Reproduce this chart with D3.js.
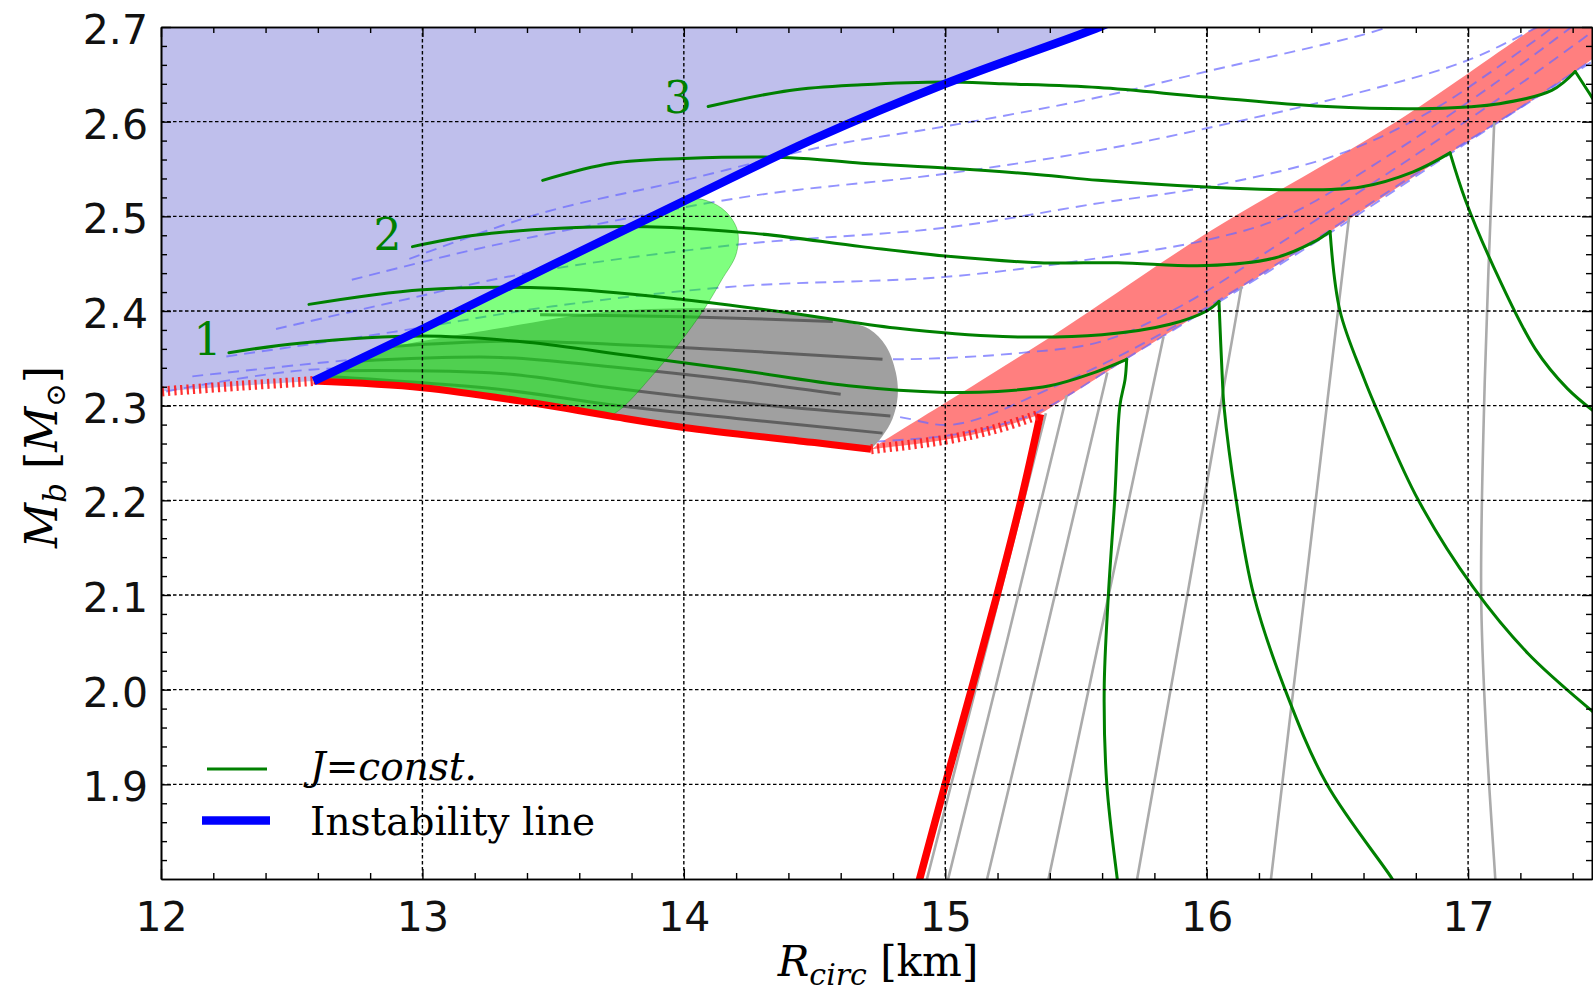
<!DOCTYPE html>
<html><head><meta charset="utf-8">
<script src="https://cdn.jsdelivr.net/npm/d3@7"></script>
<style>html,body{margin:0;padding:0;background:#fff;}svg{display:block;}</style>
</head><body>
<svg id="chart" width="1593" height="994"></svg>
<script>
// ---------------- data (R_circ [km], M_b [Msun]) ----------------
const xTicks = [12, 13, 14, 15, 16, 17];
const yTicks = [1.9, 2.0, 2.1, 2.2, 2.3, 2.4, 2.5, 2.6, 2.7];

const instabilityLine = [[12.584,2.326],[13.0,2.381],[13.5,2.449],[14.0,2.516],[14.5,2.582],[15.0,2.640],[15.59,2.70],[15.7,2.7135]];

const redSolidUpper = [[12.584,2.326],[13.0,2.319],[13.42,2.303],[13.72,2.289],[14.0,2.277],[14.5,2.261],[14.716,2.254]];
const redDottedLeft = [[11.98,2.3146],[12.3,2.321],[12.584,2.326]];
const redDottedRight = [[14.716,2.254],[15.0,2.264],[15.2,2.276],[15.364,2.291]];
const redSolidSteep = [[15.364,2.291],[15.29,2.2],[15.198,2.1],[15.10,2.0],[15.0,1.9],[14.902,1.8],[14.88,1.775]];

const pinkUpperEdge = [[14.716,2.254],[14.76,2.262],[15.1,2.32],[15.45,2.381],[16.0,2.482],[16.725,2.6],[17.257,2.7],[17.4,2.725]];
const pinkLowerEdge = [[17.75,2.725],[17.41,2.653],[16.931,2.567],[16.472,2.484],[16.047,2.41],[15.694,2.349],[15.364,2.291]];

const greenRegionEdge = [[12.584,2.326],[13.0,2.381],[13.5,2.449],[14.018,2.518],[14.093,2.516],[14.16,2.505],[14.205,2.485],[14.20,2.46],[14.145,2.433],[14.08,2.403],[13.98,2.365],[13.88,2.332],[13.77,2.299],[13.72,2.289]];
const greenRegionBottom = [[13.72,2.289],[13.42,2.303],[13.0,2.319],[12.584,2.326]];

const grayRegionEdge = [[12.584,2.326],[12.80,2.355],[13.3,2.382],[13.7,2.399],[14.07,2.403],[14.35,2.399],[14.607,2.389],[14.709,2.381],[14.773,2.363],[14.811,2.335],[14.818,2.31],[14.798,2.286],[14.76,2.268],[14.716,2.254]];

const darkLine1 = [[13.45,2.396],[14.0,2.394],[14.57,2.389]];
const darkLine2 = [[12.85,2.362],[13.3,2.368],[13.72,2.365],[14.22,2.358],[14.76,2.349]];
const darkLine3 = [[12.75,2.347],[13.3,2.351],[13.72,2.341],[14.22,2.326],[14.6,2.312]];
const darkLine4 = [[12.68,2.337],[13.3,2.334],[13.72,2.319],[14.22,2.303],[14.79,2.289]];
const darkLine5 = [[12.63,2.331],[13.3,2.317],[13.72,2.301],[14.22,2.286],[14.76,2.271]];

const dashed1 = [[12.95,2.455],[13.45,2.503],[14.0,2.538],[14.54,2.574],[15.0,2.595],[15.59,2.626],[16.0,2.653],[16.6,2.692],[16.75,2.705]];
const dashed2 = [[12.73,2.433],[13.2,2.465],[13.6,2.488],[14.27,2.522],[15.0,2.545],[15.59,2.57],[16.0,2.593],[16.6,2.632],[17.0,2.665],[17.3,2.705]];
const dashed3 = [[12.44,2.381],[12.9,2.41],[13.4,2.44],[14.2,2.47],[15.0,2.488],[15.59,2.514],[16.0,2.531],[16.5,2.565],[16.85,2.61],[17.1,2.655],[17.35,2.705]];
const dashed4 = [[12.25,2.352],[12.89,2.378],[13.5,2.405],[14.2,2.426],[15.0,2.436],[15.59,2.456],[16.0,2.475],[16.3,2.50],[16.7,2.565],[17.1,2.64],[17.42,2.705]];
const dashed5 = [[12.12,2.331],[12.6,2.345],[12.89,2.352],[13.5,2.36],[14.3,2.355],[14.8,2.349],[15.3,2.356],[15.6,2.368],[15.9,2.405],[16.3,2.475],[16.8,2.565],[17.2,2.64],[17.5,2.70]];
const dashed6 = [[12.02,2.315],[12.57,2.338],[13.2,2.335],[14.0,2.31],[14.8,2.289],[15.03,2.28],[15.4,2.318],[15.82,2.375],[16.3,2.455],[16.8,2.545],[17.2,2.615],[17.5,2.67]];
const dashed7 = [[14.73,2.262],[15.0,2.268],[15.2,2.279],[15.36,2.294],[15.7,2.351],[16.05,2.41],[16.48,2.484],[16.93,2.566],[17.41,2.652],[17.5,2.668]];

const jLine1Top = [[12.26,2.356],[12.53,2.366],[13.0,2.3735],[13.4,2.367],[13.79,2.353],[14.2,2.338],[14.63,2.321],[15.0,2.314],[15.2,2.315],[15.4,2.321],[15.55,2.333],[15.694,2.349]];
const jLine1Down = [[15.694,2.349],[15.688,2.328],[15.668,2.3],[15.648,2.2],[15.624,2.1],[15.608,2.0],[15.618,1.9],[15.658,1.8],[15.665,1.785]];
const jLine2Top = [[12.566,2.407],[13.0,2.4225],[13.5,2.424],[14.0,2.412],[14.405,2.398],[14.81,2.382],[15.22,2.373],[15.6,2.375],[15.86,2.386],[16.0,2.40],[16.047,2.41]];
const jLine2Down = [[16.047,2.41],[16.06,2.328],[16.066,2.3],[16.113,2.2],[16.18,2.1],[16.30,2.0],[16.46,1.9],[16.71,1.8],[16.73,1.79]];
const jLine3Top = [[12.962,2.468],[13.2,2.480],[13.525,2.4875],[13.86,2.489],[14.27,2.482],[14.68,2.468],[15.0,2.458],[15.36,2.451],[15.66,2.451],[16.0,2.448],[16.26,2.456],[16.41,2.473],[16.472,2.484]];
const jLine3Down = [[16.472,2.484],[16.51,2.40],[16.6,2.33],[16.66,2.29],[16.81,2.2],[17.02,2.108],[17.23,2.038],[17.48,1.976],[17.55,1.96]];
const jLine4Top = [[13.46,2.538],[13.725,2.556],[14.0,2.561],[14.405,2.562],[14.68,2.556],[15.0,2.551],[15.36,2.544],[15.586,2.538],[16.0,2.531],[16.326,2.528],[16.59,2.531],[16.79,2.547],[16.931,2.567]];
const jLine4Down = [[16.931,2.567],[16.99,2.517],[17.097,2.447],[17.257,2.36],[17.38,2.318],[17.5,2.29]];
const jLine5Top = [[14.093,2.616],[14.405,2.633],[14.68,2.639],[15.0,2.642],[15.22,2.640],[15.586,2.636],[16.0,2.626],[16.46,2.616],[16.86,2.614],[17.12,2.619],[17.32,2.633],[17.41,2.653]];
const jLine5Down = [[17.41,2.653],[17.48,2.623],[17.52,2.605]];

const grayLine0 = [[15.385,2.292],[14.93,1.8],[14.91,1.78]];
const grayLine1 = [[15.465,2.311],[15.011,1.8],[14.99,1.78]];
const grayLine2 = [[15.62,2.335],[15.16,1.8],[15.14,1.78]];
const grayLine3 = [[15.835,2.373],[15.395,1.8],[15.38,1.78]];
const grayLine4 = [[16.133,2.426],[15.734,1.8],[15.72,1.78]];
const grayLine5 = [[16.545,2.5],[16.246,1.8],[16.237,1.78]];
const grayLine6 = [[17.10,2.6],[17.064,2.328],[17.05,2.1],[17.07,1.95],[17.104,1.8],[17.108,1.78]];

const curveLabels = [["1",12.178,2.3535],["2",12.866,2.4644],["3",13.978,2.6092]];
const legendLabels = ["J=const.", "Instability line"];

// ---------------- setup ----------------
const svg = d3.select("#chart");
const PL = 161, PR = 1592, PT = 27, PB = 879;
const x = d3.scaleLinear().domain([12, 17.474]).range([PL, PR]);
const y = d3.scaleLinear().domain([1.8, 2.7]).range([PB, PT]);

svg.append("defs").append("clipPath").attr("id","plotclip")
  .append("rect").attr("x",PL).attr("y",PT).attr("width",PR-PL).attr("height",PB-PT);

const lineCR = d3.line().x(d=>x(d[0])).y(d=>y(d[1])).curve(d3.curveCatmullRom.alpha(0.5));
function joinPaths(parts){
  return parts.map((p,i)=>{ const s = lineCR(p); return i===0 ? s : "L" + s.slice(1); }).join("") + "Z";
}
const rev = a => a.slice().reverse();

const plot = svg.append("g").attr("clip-path","url(#plotclip)");

// lavender unstable region
plot.append("path")
  .attr("d", joinPaths([[[11.9,2.75],[15.9,2.75]], rev(instabilityLine), rev(redDottedLeft), [[11.9,2.3146]]]))
  .attr("fill","rgb(191,191,236)").attr("stroke","none");

// pink band
plot.append("path")
  .attr("d", joinPaths([pinkUpperEdge, pinkLowerEdge, rev(redDottedRight)]))
  .attr("fill","rgba(255,0,0,0.5)").attr("stroke","none");

// dashed blue lines
[dashed1,dashed2,dashed3,dashed4,dashed5,dashed6,dashed7].forEach(d=>{
  plot.append("path").attr("d",lineCR(d)).attr("fill","none")
    .attr("stroke","#6a6aff").attr("stroke-opacity",0.72).attr("stroke-width",1.9)
    .attr("stroke-dasharray","11,7");
});

// gray region
plot.append("path")
  .attr("d", joinPaths([grayRegionEdge, rev(redSolidUpper)]))
  .attr("fill","rgb(160,160,160)").attr("stroke","none");

// dark lines inside gray region
[darkLine1,darkLine2,darkLine3,darkLine4,darkLine5].forEach(d=>{
  plot.append("path").attr("d",lineCR(d)).attr("fill","none")
    .attr("stroke","#4a4a4a").attr("stroke-opacity",0.75).attr("stroke-width",3);
});

// green region
plot.append("path")
  .attr("d", joinPaths([greenRegionEdge, greenRegionBottom]))
  .attr("fill","rgba(0,255,0,0.5)").attr("stroke","rgba(0,120,0,0.35)").attr("stroke-width",1);

// grid
const grid = svg.append("g");
yTicks.filter(v=>v<2.69).forEach(v=>{
  grid.append("line").attr("x1",PL).attr("x2",PR).attr("y1",y(v)).attr("y2",y(v))
    .attr("stroke","#000").attr("stroke-width",1.4).attr("stroke-dasharray","3.5,2.5");
});
xTicks.filter(v=>v>12.01).forEach(v=>{
  grid.append("line").attr("x1",x(v)).attr("x2",x(v)).attr("y1",PT).attr("y2",PB)
    .attr("stroke","#000").attr("stroke-width",1.4).attr("stroke-dasharray","3.5,2.5");
});

// gray thin lines
[grayLine0,grayLine1,grayLine2,grayLine3,grayLine4,grayLine5,grayLine6].forEach(d=>{
  plot.append("path").attr("d",lineCR(d)).attr("fill","none")
    .attr("stroke","#ababab").attr("stroke-width",2.6);
});

// red lines
plot.append("path").attr("d",lineCR(redSolidUpper)).attr("fill","none")
  .attr("stroke","#ff0000").attr("stroke-width",7).attr("stroke-linecap","butt");
plot.append("path").attr("d",lineCR(redSolidSteep)).attr("fill","none")
  .attr("stroke","#ff0000").attr("stroke-width",7.5).attr("stroke-linecap","butt");
[redDottedLeft, redDottedRight].forEach(d=>{
  plot.append("path").attr("d",lineCR(d)).attr("fill","none")
    .attr("stroke","#ff1a1a").attr("stroke-opacity",0.9).attr("stroke-width",10)
    .attr("stroke-dasharray","2.2,4");
});

// green J = const lines
[[jLine1Top,jLine1Down],[jLine2Top,jLine2Down],[jLine3Top,jLine3Down],[jLine4Top,jLine4Down],[jLine5Top,jLine5Down]].forEach(pair=>{
  pair.forEach(d=>{
    plot.append("path").attr("d",lineCR(d)).attr("fill","none")
      .attr("stroke","#008000").attr("stroke-width",3).attr("stroke-linejoin","round").attr("stroke-linecap","round");
  });
});

// instability line
plot.append("path").attr("d",lineCR(instabilityLine)).attr("fill","none")
  .attr("stroke","#0000ff").attr("stroke-width",8.5).attr("stroke-linecap","butt");

// curve labels
svg.selectAll("text.clabel").data(curveLabels).enter().append("text")
  .attr("class","clabel")
  .attr("x",d=>x(d[1])).attr("y",d=>y(d[2]))
  .attr("text-anchor","middle")
  .attr("font-family","'DejaVu Serif', serif").attr("font-size",44)
  .attr("fill","#008000").text(d=>d[0]);

// ---------------- axes ----------------
const tickFont = "'DejaVu Sans', sans-serif";
function styleAxis(g){
  g.select(".domain").attr("stroke","#000").attr("stroke-width",1.6);
  g.selectAll(".tick line").attr("stroke","#000").attr("stroke-width",1.4);
  g.selectAll("text").attr("font-family",tickFont).attr("font-size",41).attr("fill","#111");
}
const xMinor = [], yMinor = [];
for (let i=0;i<=27;i++){ const v = 12 + i*0.2; if (i%5!==0) xMinor.push(+v.toFixed(2)); }
for (let i=0;i<=45;i++){ const v = 1.8 + i*0.02; if (i%5!==0) yMinor.push(+v.toFixed(2)); }

svg.append("g").attr("transform",`translate(0,${PB})`)
  .call(d3.axisBottom(x).tickValues(xTicks).tickSize(-10).tickSizeOuter(0).tickPadding(23).tickFormat(d3.format("d")))
  .call(styleAxis);
svg.append("g").attr("transform",`translate(0,${PB})`)
  .call(d3.axisBottom(x).tickValues(xMinor).tickSize(-6).tickSizeOuter(0).tickFormat(""))
  .call(styleAxis);
svg.append("g").attr("transform",`translate(0,${PT})`)
  .call(d3.axisTop(x).tickValues(xTicks).tickSize(-10).tickSizeOuter(0).tickFormat(""))
  .call(styleAxis);
svg.append("g").attr("transform",`translate(0,${PT})`)
  .call(d3.axisTop(x).tickValues(xMinor).tickSize(-6).tickSizeOuter(0).tickFormat(""))
  .call(styleAxis);

const gy = svg.append("g").attr("transform",`translate(${PL},0)`)
  .call(d3.axisLeft(y).tickValues(yTicks).tickSize(-10).tickSizeOuter(0).tickPadding(13).tickFormat(d3.format(".1f")))
  .call(styleAxis);
gy.selectAll("text").attr("dy","0.4em");
svg.append("g").attr("transform",`translate(${PL},0)`)
  .call(d3.axisLeft(y).tickValues(yMinor).tickSize(-6).tickSizeOuter(0).tickFormat(""))
  .call(styleAxis);
svg.append("g").attr("transform",`translate(${PR},0)`)
  .call(d3.axisRight(y).tickValues(yTicks).tickSize(-10).tickSizeOuter(0).tickFormat(""))
  .call(styleAxis);
svg.append("g").attr("transform",`translate(${PR},0)`)
  .call(d3.axisRight(y).tickValues(yMinor).tickSize(-6).tickSizeOuter(0).tickFormat(""))
  .call(styleAxis);

// axis labels
const serif = "'DejaVu Serif', serif";
const xl = svg.append("text").attr("x",878).attr("y",976).attr("text-anchor","middle")
  .attr("font-family",serif).attr("font-size",42).attr("fill","#000");
xl.append("tspan").attr("font-style","italic").text("R");
xl.append("tspan").attr("font-style","italic").attr("font-size",30).attr("dy",9).text("circ");
xl.append("tspan").attr("dy",-9).text(" [km]");

const yl = svg.append("text").attr("transform","translate(57,457) rotate(-90)").attr("text-anchor","middle")
  .attr("font-family",serif).attr("font-size",44).attr("fill","#000");
yl.append("tspan").attr("font-style","italic").text("M");
yl.append("tspan").attr("font-style","italic").attr("font-size",31).attr("dy",9).text("b");
yl.append("tspan").attr("dy",-9).text(" [");
yl.append("tspan").attr("font-style","italic").text("M");
yl.append("tspan").attr("font-size",28).attr("dy",8).text("\u2299");
yl.append("tspan").attr("dy",-8).text("]");

// ---------------- legend ----------------
const lg = svg.append("g");
lg.append("line").attr("x1",207).attr("x2",267).attr("y1",769).attr("y2",769)
  .attr("stroke","#008000").attr("stroke-width",3);
lg.append("line").attr("x1",202).attr("x2",270).attr("y1",820.5).attr("y2",820.5)
  .attr("stroke","#0000ff").attr("stroke-width",8.5);
const t1 = lg.append("text").attr("x",310).attr("y",780).attr("font-family",serif).attr("font-size",39).attr("fill","#000");
t1.append("tspan").attr("font-style","italic").text("J");
t1.append("tspan").text("=");
t1.append("tspan").attr("font-style","italic").text("const.");
lg.append("text").attr("x",310).attr("y",835).attr("font-family",serif).attr("font-size",39).attr("fill","#000")
  .text(legendLabels[1]);
</script>
</body></html>
